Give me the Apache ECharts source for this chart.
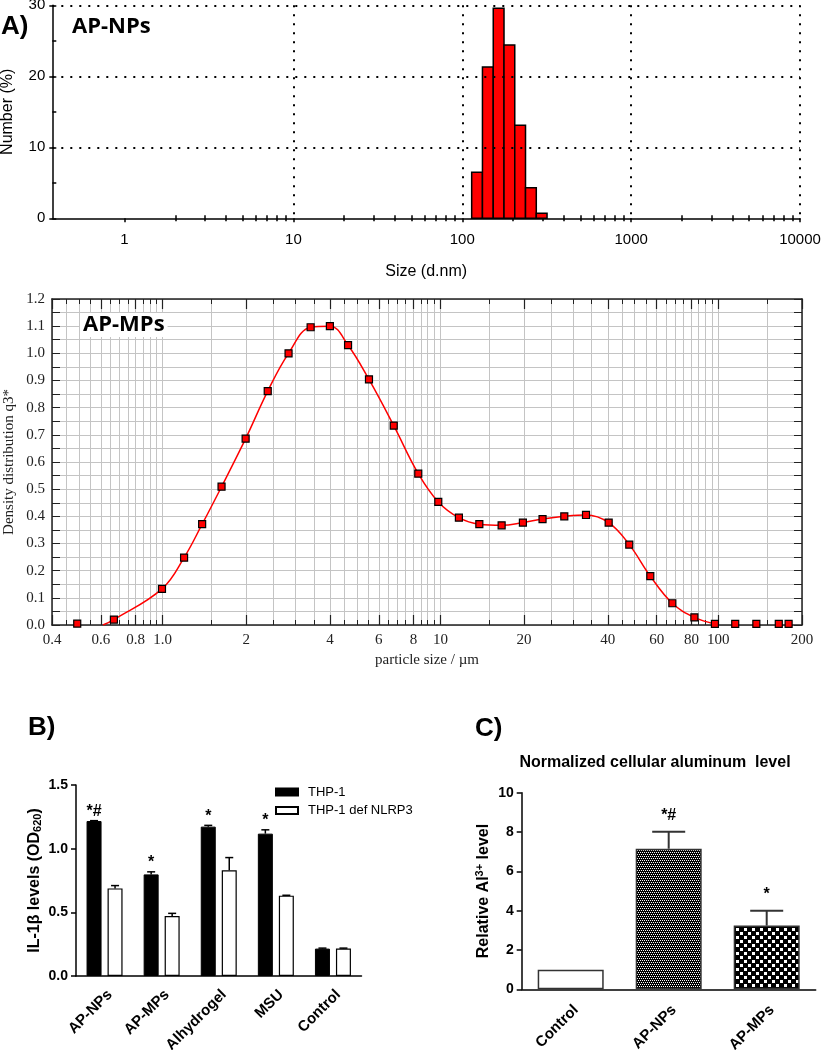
<!DOCTYPE html>
<html><head><meta charset="utf-8">
<script src="https://cdn.jsdelivr.net/npm/echarts@6/dist/echarts.min.js"></script>
<style>html,body{margin:0;padding:0;background:#fff}#c{width:821px;height:1050px}</style>
</head><body><div id="c"></div>
<script>
// ---------- Panel A (AP-NPs) : DLS number distribution ----------
const npBinEdges = [113.7, 131.7, 152.6, 176.7, 204.6, 236.9, 274.4, 317.8];
const npNumber   = [6.5, 21.3, 29.6, 24.4, 13.1, 4.3, 0.7];
const npMajorTicks = [1, 10, 100, 1000, 10000];
const npMinorTicks = [2,3,4,5,6,7,8,9, 20,30,40,50,60,70,80,90, 200,300,400,500,600,700,800,900, 2000,3000,4000,5000,6000,7000,8000,9000];

// ---------- Panel AP-MPs : laser diffraction density distribution ----------
const mpSize    = [0.493, 0.668, 0.995, 1.195, 1.388, 1.63, 1.99, 2.39, 2.84, 3.41, 4.0, 4.65, 5.53, 6.79, 8.32, 9.82, 11.65, 13.8, 16.6, 19.8, 23.3, 27.9, 33.4, 40.3, 47.8, 56.9, 68.3, 82.0, 97.2, 115, 137, 165, 179];
const mpDensity = [0.005, 0.02, 0.133, 0.248, 0.371, 0.509, 0.686, 0.861, 1.0, 1.096, 1.10, 1.03, 0.904, 0.734, 0.557, 0.453, 0.395, 0.371, 0.367, 0.377, 0.390, 0.400, 0.405, 0.377, 0.296, 0.180, 0.080, 0.028, 0.004, 0.004, 0.004, 0.004, 0.004];
const mpCurveStart = [0.61, 0];
const mpLabelValues = [0.4, 0.6, 0.8, 1, 2, 4, 6, 8, 10, 20, 40, 60, 80, 100, 200];
const mpLabels      = ['0.4','0.6','0.8','1.0','2','4','6','8','10','20','40','60','80','100','200'];
const mpGridValues = [0.4,0.45,0.5,0.55,0.6,0.65,0.7,0.75,0.8,0.85,0.9,0.95,
  1,1.5,2,2.5,3,3.5,4,4.5,5,5.5,6,6.5,7,7.5,8,8.5,9,9.5,
  10,15,20,25,30,35,40,45,50,55,60,65,70,75,80,85,90,95,100,150,200];

// ---------- Panel B : IL-1beta ----------
const bCategories = ['AP-NPs', 'AP-MPs', 'Alhydrogel', 'MSU', 'Control'];
const bThp1      = [1.217, 0.798, 1.173, 1.118, 0.215];
const bThp1Err   = [0.003, 0.020, 0.010, 0.030, 0.004];
const bNlrp3     = [0.688, 0.471, 0.830, 0.631, 0.215];
const bNlrp3Err  = [0.022, 0.021, 0.100, 0.003, 0.004];
const bMarks     = ['*#', '*', '*', '*', ''];

// ---------- Panel C : normalized cellular aluminum ----------
const cCategories = ['Control', 'AP-NPs', 'AP-MPs'];
const cValues = [1.0, 7.15, 3.24];
const cErr    = [0.0, 0.87, 0.76];
const cMarks  = ['', '*#', '*'];

// ---------- patterns ----------
function makePattern(size, cells) {
  const cv = document.createElement('canvas');
  cv.width = size; cv.height = size;
  const ctx = cv.getContext('2d');
  ctx.fillStyle = '#000'; ctx.fillRect(0, 0, size, size);
  ctx.fillStyle = '#fff';
  cells.forEach(c => ctx.fillRect(c[0], c[1], c[2], c[3]));
  return { image: cv, repeat: 'repeat' };
}
const fineCheck = makePattern(4, [[0,0,1,1],[2,0,1,1],[1,2,1,1],[3,2,1,1]]);
const coarseCheck = makePattern(8, [[0,0,3,3],[4,4,3,3]]);
const cFills = ['#ffffff', fineCheck, coarseCheck];

const SANS = 'Liberation Sans';
const SERIF = 'Liberation Serif';
const black = '#000';

const chart = echarts.init(document.getElementById('c'), null, { renderer: 'canvas' });

const gA = { left: 52.3, top: 5.3, width: 747.7, height: 213, outerBoundsMode: 'none' };
const gM = { left: 52, top: 299, width: 750, height: 326, outerBoundsMode: 'none' };

function fmtLog(v) { return String(Math.round(v)); }
function mpFmt(v) {
  const k = mpLabelValues.findIndex(t => Math.abs(t - v) < 1e-6 * t);
  return k >= 0 ? mpLabels[k] : '';
}

const npHist = npNumber.map((v, i) => [npBinEdges[i], npBinEdges[i + 1], v]);
const mpPoints = mpSize.map((x, i) => [x, mpDensity[i]]);
const mpCurve = [mpCurveStart].concat(mpSize.slice(1, 29).map((x, i) => [x, mpDensity[i + 1]]));

const bErrData = [];
bCategories.forEach((c, i) => {
  bErrData.push([i, bThp1[i], bThp1Err[i], 0]);
  bErrData.push([i, bNlrp3[i], bNlrp3Err[i], 1]);
});
const cErrData = cCategories.map((c, i) => [i, cValues[i], cErr[i]]);

const logBase = { type: 'log', logBase: 10 };

const option = {
  animation: false,
  backgroundColor: '#fff',
  grid: [
    gA, Object.assign({}, gA), Object.assign({}, gA),
    gM, Object.assign({}, gM),
    { left: 76, top: 785, width: 285.5, height: 191, outerBoundsMode: 'none' },
    { left: 521.7, top: 792.7, width: 294, height: 196.6, outerBoundsMode: 'none' }
  ],
  xAxis: [
    // 0: panel A main
    Object.assign({}, logBase, {
      gridIndex: 0, min: 0.3736, max: 10000, z: 20,
      axisLine: { show: true, onZero: false, lineStyle: { color: black, width: 1.5 } },
      axisTick: { customValues: npMajorTicks, length: 4, lineStyle: { color: black, width: 1.5 } },
      axisLabel: { customValues: npMajorTicks, formatter: fmtLog, fontFamily: SANS, fontSize: 15, color: black, margin: 14 },
      splitLine: { show: true, showMinLine: false, lineStyle: { type: [2, 7], color: black, width: 2 } },
      name: 'Size (d.nm)', nameLocation: 'middle', nameGap: 45, nameMoveOverlap: false,
      nameTextStyle: { fontFamily: SANS, fontSize: 16, color: black }
    }),
    // 1: panel A minor ticks inside
    Object.assign({}, logBase, {
      gridIndex: 1, min: 0.3736, max: 10000,
      axisLine: { show: false, onZero: false },
      axisTick: { customValues: npMinorTicks, inside: true, length: 3, lineStyle: { color: black, width: 1.5 } },
      axisLabel: { show: false }, splitLine: { show: false }
    }),
    // 2: panel A minor ticks outside
    Object.assign({}, logBase, {
      gridIndex: 2, min: 0.3736, max: 10000,
      axisLine: { show: false, onZero: false },
      axisTick: { customValues: npMinorTicks, inside: false, length: 3, lineStyle: { color: black, width: 1.5 } },
      axisLabel: { show: false }, splitLine: { show: false }
    }),
    // 3: AP-MPs bottom
    Object.assign({}, logBase, {
      gridIndex: 3, min: 0.4, max: 200, position: 'bottom',
      axisLine: { show: true, onZero: false, lineStyle: { color: '#222', width: 1.5 } },
      axisTick: { customValues: mpGridValues, inside: true, length: 5, lineStyle: { color: '#222', width: 1 } },
      axisLabel: { customValues: mpLabelValues, formatter: mpFmt, fontFamily: SERIF, fontSize: 15, color: '#222', margin: 8 },
      splitLine: { show: true, lineStyle: { color: '#c4c4c4', width: 1 } },
      name: 'particle size / µm', nameLocation: 'middle', nameGap: 28, nameMoveOverlap: false,
      nameTextStyle: { fontFamily: SERIF, fontSize: 15, color: '#222' }
    }),
    // 4: AP-MPs top
    Object.assign({}, logBase, {
      gridIndex: 3, min: 0.4, max: 200, position: 'top',
      axisLine: { show: true, onZero: false, lineStyle: { color: '#222', width: 1.5 } },
      axisTick: { customValues: mpGridValues, inside: true, length: 5, lineStyle: { color: '#222', width: 1 } },
      axisLabel: { show: false }, splitLine: { show: false }
    }),
    // 5: AP-MPs long ticks bottom
    Object.assign({}, logBase, {
      gridIndex: 4, min: 0.4, max: 200, position: 'bottom',
      axisLine: { show: false, onZero: false },
      axisTick: { customValues: mpLabelValues, inside: true, length: 10, lineStyle: { color: '#222', width: 1.2 } },
      axisLabel: { show: false }, splitLine: { show: false }
    }),
    // 6: AP-MPs long ticks top
    Object.assign({}, logBase, {
      gridIndex: 4, min: 0.4, max: 200, position: 'top',
      axisLine: { show: false, onZero: false },
      axisTick: { customValues: mpLabelValues, inside: true, length: 10, lineStyle: { color: '#222', width: 1.2 } },
      axisLabel: { show: false }, splitLine: { show: false }
    }),
    // 7: panel B
    {
      gridIndex: 5, type: 'category', data: bCategories,
      axisLine: { show: true, onZero: false, lineStyle: { color: black, width: 1.5 } },
      axisTick: { alignWithLabel: true, length: 5, lineStyle: { color: black, width: 1.5 } },
      axisLabel: { rotate: 45, verticalAlign: 'top', margin: 11, fontFamily: SANS, fontSize: 15, fontWeight: 'bold', color: black, interval: 0 },
      splitLine: { show: false }
    },
    // 8: panel C
    {
      gridIndex: 6, type: 'category', data: cCategories,
      axisLine: { show: true, onZero: false, lineStyle: { color: black, width: 1.5 } },
      axisTick: { alignWithLabel: true, length: 5, lineStyle: { color: black, width: 1.5 } },
      axisLabel: { rotate: 45, verticalAlign: 'top', margin: 13, fontFamily: SANS, fontSize: 15, fontWeight: 'bold', color: black, interval: 0 },
      splitLine: { show: false }
    }
  ],
  yAxis: [
    // 0: panel A main
    {
      gridIndex: 0, type: 'value', min: 0, max: 30, interval: 10, z: 20,
      axisLine: { show: true, onZero: false, lineStyle: { color: black, width: 1.5 } },
      axisTick: { show: true, length: 3, lineStyle: { color: black, width: 1.5 } },
      axisLabel: { fontFamily: SANS, fontSize: 15, color: black, margin: 7 },
      splitLine: { show: true, showMinLine: false, lineStyle: { type: [2, 7], color: black, width: 2 } },
      name: 'Number (%)', nameLocation: 'middle', nameGap: 37, nameMoveOverlap: false,
      nameTextStyle: { fontFamily: SANS, fontSize: 16, color: black }
    },
    // 1: panel A minor y ticks inside
    {
      gridIndex: 1, type: 'value', min: 0, max: 30, interval: 5,
      axisLine: { show: false, onZero: false },
      axisTick: { show: true, inside: true, length: 4, lineStyle: { color: black, width: 1.5 } },
      axisLabel: { show: false }, splitLine: { show: false }
    },
    // 2: hidden
    { gridIndex: 2, type: 'value', min: 0, max: 30, show: false },
    // 3: AP-MPs left
    {
      gridIndex: 3, type: 'value', min: 0, max: 1.2, interval: 0.1, position: 'left',
      axisLine: { show: true, onZero: false, lineStyle: { color: '#222', width: 1.5 } },
      axisTick: { show: true, inside: true, length: 8, lineStyle: { color: '#222', width: 1 } },
      minorTick: { show: true, splitNumber: 2, length: 8, lineStyle: { color: '#222', width: 1 } },
      axisLabel: { formatter: v => v.toFixed(1), fontFamily: SERIF, fontSize: 15, color: '#222', margin: 7 },
      splitLine: { show: true, lineStyle: { color: '#c4c4c4', width: 1 } },
      minorSplitLine: { show: true, lineStyle: { color: '#c4c4c4', width: 1 } },
      name: 'Density distribution q3*', nameLocation: 'middle', nameGap: 35, nameMoveOverlap: false,
      nameTextStyle: { fontFamily: SERIF, fontSize: 15, color: '#222' }
    },
    // 4: AP-MPs right
    {
      gridIndex: 3, type: 'value', min: 0, max: 1.2, interval: 0.1, position: 'right',
      axisLine: { show: true, onZero: false, lineStyle: { color: '#222', width: 1.5 } },
      axisTick: { show: true, inside: true, length: 8, lineStyle: { color: '#222', width: 1 } },
      minorTick: { show: true, splitNumber: 2, length: 8, lineStyle: { color: '#222', width: 1 } },
      axisLabel: { show: false }, splitLine: { show: false }
    },
    // 5: hidden overlay
    { gridIndex: 4, type: 'value', min: 0, max: 1.2, show: false },
    // 6: panel B
    {
      gridIndex: 5, type: 'value', min: 0, max: 1.5, interval: 0.5,
      axisLine: { show: true, onZero: false, lineStyle: { color: black, width: 1.5 } },
      axisTick: { show: true, length: 5, lineStyle: { color: black, width: 1.5 } },
      axisLabel: { formatter: v => v.toFixed(1), fontFamily: SANS, fontSize: 14, fontWeight: 'bold', color: black, margin: 8 },
      splitLine: { show: false },
      name: 'IL-1β levels (OD{sub|620})', nameLocation: 'middle', nameGap: 33, nameMoveOverlap: false,
      nameTextStyle: {
        fontFamily: SANS, fontSize: 16, fontWeight: 'bold', color: black,
        rich: { sub: { fontFamily: SANS, fontSize: 11, fontWeight: 'bold', color: black, verticalAlign: 'bottom', padding: [6, 0, 0, 0] } }
      }
    },
    // 7: panel C
    {
      gridIndex: 6, type: 'value', min: 0, max: 10, interval: 2,
      axisLine: { show: true, onZero: false, lineStyle: { color: black, width: 1.5 } },
      axisTick: { show: true, length: 5, lineStyle: { color: black, width: 1.5 } },
      axisLabel: { fontFamily: SANS, fontSize: 14, fontWeight: 'bold', color: black, margin: 8 },
      splitLine: { show: false },
      name: 'Relative Al{sup|3+} level', nameLocation: 'middle', nameGap: 30, nameMoveOverlap: false,
      nameTextStyle: {
        fontFamily: SANS, fontSize: 16, fontWeight: 'bold', color: black,
        rich: { sup: { fontFamily: SANS, fontSize: 11, fontWeight: 'bold', color: black, verticalAlign: 'top', padding: [0, 0, 6, 0] } }
      }
    }
  ],
  legend: {
    data: ['THP-1', 'THP-1 def NLRP3'],
    orient: 'vertical', left: 270, top: 780,
    icon: 'rect', itemWidth: 22, itemHeight: 7, itemGap: 4.5,
    textStyle: { fontFamily: SANS, fontSize: 13, color: black, lineHeight: 14, padding: [0, 0, 0, 5] }
  },
  series: [
    {
      type: 'custom', name: 'AP-NPs', xAxisIndex: 0, yAxisIndex: 0,
      data: npHist, encode: { x: [0, 1], y: 2 }, z: 5,
      renderItem: (params, api) => {
        const p0 = api.coord([api.value(0), api.value(2)]);
        const p1 = api.coord([api.value(1), 0]);
        return { type: 'rect', shape: { x: p0[0], y: p0[1], width: p1[0] - p0[0], height: p1[1] - p0[1] },
                 style: { fill: '#ff0000', stroke: black, lineWidth: 1.5 } };
      }
    },
    {
      type: 'line', name: 'AP-MPs fit', xAxisIndex: 3, yAxisIndex: 3,
      data: mpCurve, smooth: 0.4, showSymbol: false, symbol: 'none',
      lineStyle: { color: '#ff0000', width: 1.5 }, z: 3
    },
    {
      type: 'scatter', name: 'AP-MPs', xAxisIndex: 3, yAxisIndex: 3,
      data: mpPoints, symbol: 'rect', symbolSize: 7,
      itemStyle: { color: '#ff0000', borderColor: black, borderWidth: 1.2, opacity: 1 }, z: 5
    },
    {
      type: 'bar', name: 'THP-1', xAxisIndex: 7, yAxisIndex: 6,
      data: bThp1, barWidth: 15, barGap: '40%',
      itemStyle: { color: black, borderColor: black, borderWidth: 1 }
    },
    {
      type: 'bar', name: 'THP-1 def NLRP3', xAxisIndex: 7, yAxisIndex: 6,
      data: bNlrp3, barWidth: 15, barGap: '40%',
      itemStyle: { color: '#fff', borderColor: black, borderWidth: 1.2 }
    },
    {
      type: 'custom', name: 'B errors', xAxisIndex: 7, yAxisIndex: 6,
      data: bErrData, z: 10,
      renderItem: (params, api) => {
        const i = api.value(0), v = api.value(1), e = api.value(2), g = api.value(3);
        const off = g === 0 ? -10.5 : 10.5;
        const base = api.coord([i, v]);
        const top = api.coord([i, v + e]);
        const x = base[0] + off;
        const children = [
          { type: 'line', shape: { x1: x, y1: base[1], x2: x, y2: top[1] }, style: { stroke: black, lineWidth: 1.5 } },
          { type: 'line', shape: { x1: x - 4, y1: top[1], x2: x + 4, y2: top[1] }, style: { stroke: black, lineWidth: 1.5 } }
        ];
        const mark = g === 0 ? bMarks[i] : '';
        if (mark) {
          children.push({ type: 'text', x: x, y: top[1] - 1,
            style: { text: mark, fontFamily: SANS, fontSize: 16, fontWeight: 'bold', fill: black, align: 'center', verticalAlign: 'bottom' } });
        }
        return { type: 'group', children };
      }
    },
    {
      type: 'bar', name: 'Al level', xAxisIndex: 8, yAxisIndex: 7,
      data: cValues.map((v, i) => ({ value: v, itemStyle: { color: cFills[i] } })),
      barWidth: 66,
      itemStyle: { borderColor: '#333', borderWidth: 1.5 }
    },
    {
      type: 'custom', name: 'C errors', xAxisIndex: 8, yAxisIndex: 7,
      data: cErrData, z: 10,
      renderItem: (params, api) => {
        const i = api.value(0), v = api.value(1), e = api.value(2);
        const base = api.coord([i, v]);
        const top = api.coord([i, v + e]);
        const x = base[0];
        const children = [];
        if (e > 0) {
          children.push({ type: 'line', shape: { x1: x, y1: base[1], x2: x, y2: top[1] }, style: { stroke: '#333', lineWidth: 2 } });
          children.push({ type: 'line', shape: { x1: x - 16.5, y1: top[1], x2: x + 16.5, y2: top[1] }, style: { stroke: '#333', lineWidth: 2 } });
        }
        if (cMarks[i]) {
          children.push({ type: 'text', x: x, y: top[1] - 8,
            style: { text: cMarks[i], fontFamily: SANS, fontSize: 16, fontWeight: 'bold', fill: black, align: 'center', verticalAlign: 'bottom' } });
        }
        return { type: 'group', children };
      }
    }
  ],
  graphic: [
    { type: 'text', x: 1, y: 27, z: 100, style: { text: 'A)', fontFamily: SANS, fontSize: 26, fontWeight: 'bold', fill: black, align: 'left', verticalAlign: 'middle' } },
    { type: 'text', x: 69, y: 27, z: 100, style: { text: 'AP-NPs', fontFamily: 'Open Sans', fontSize: 22, fontWeight: 'bold', fill: black, align: 'left', verticalAlign: 'middle', backgroundColor: '#fff', padding: [1, 3] } },
    { type: 'text', x: 80, y: 325, z: 100, style: { text: 'AP-MPs', fontFamily: 'Open Sans', fontSize: 22, fontWeight: 'bold', fill: black, align: 'left', verticalAlign: 'middle', backgroundColor: '#fff', padding: [1, 3] } },
    { type: 'text', x: 28, y: 728, z: 100, style: { text: 'B)', fontFamily: SANS, fontSize: 26, fontWeight: 'bold', fill: black, align: 'left', verticalAlign: 'middle' } },
    { type: 'text', x: 475, y: 729, z: 100, style: { text: 'C)', fontFamily: SANS, fontSize: 26, fontWeight: 'bold', fill: black, align: 'left', verticalAlign: 'middle' } },
    { type: 'text', x: 655, y: 763, z: 100, style: { text: 'Normalized cellular aluminum  level', fontFamily: SANS, fontSize: 16, fontWeight: 'bold', fill: black, align: 'center', verticalAlign: 'middle' } }
  ]
};
chart.setOption(option);
</script>
</body></html>
